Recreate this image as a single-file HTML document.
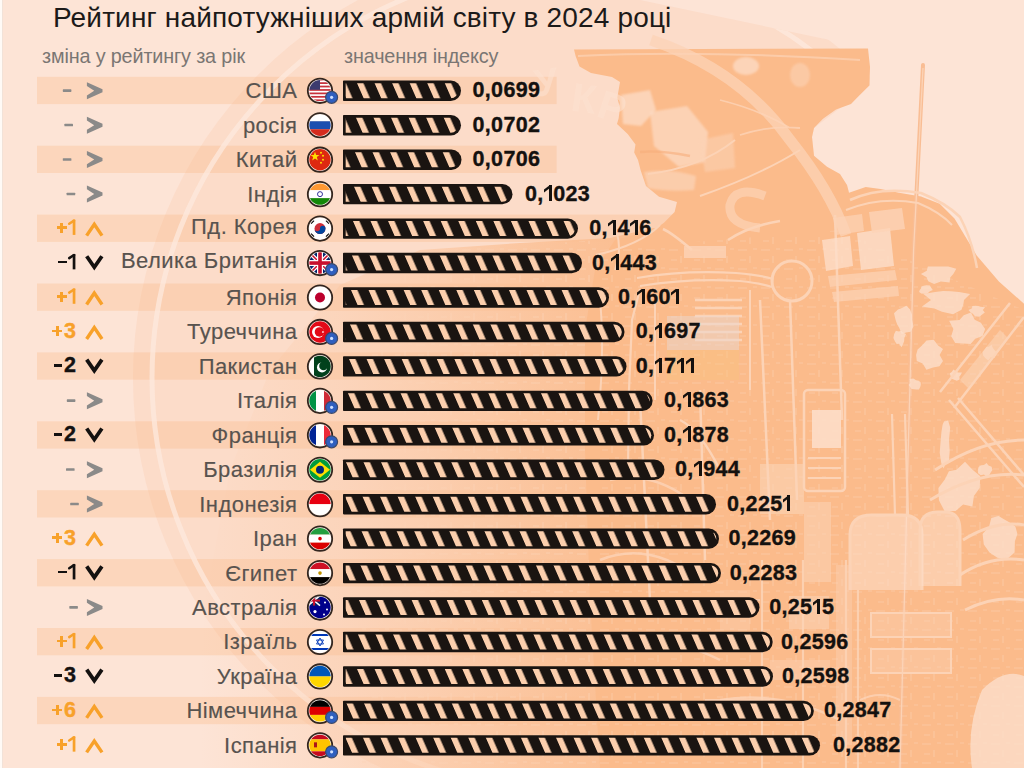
<!DOCTYPE html>
<html><head><meta charset="utf-8">
<style>
*{margin:0;padding:0;box-sizing:border-box}
html,body{width:1024px;height:768px;overflow:hidden;background:#fde4d6}
body{position:relative;font-family:"Liberation Sans",sans-serif}
.t{position:absolute;white-space:nowrap;line-height:1}
.title{left:53px;top:4px;font-size:28px;color:#1c1a19;letter-spacing:0.16px}
.sub{font-size:19.8px;color:#7a7673;letter-spacing:-0.14px}
.nm{font-size:22px;color:#58534f;text-align:right;letter-spacing:0.45px;-webkit-text-stroke:0.15px #58534f}
.val{font-size:21.5px;font-weight:bold;color:#14110f;letter-spacing:0.3px;-webkit-text-stroke:0.35px #14110f}
.one{display:inline-block;position:relative;width:9.6px;height:15.3px;vertical-align:baseline}
.one::before{content:'';position:absolute;right:1.6px;bottom:0;width:3px;height:15.4px;background:#14110f}
.one::after{content:'';position:absolute;right:4.4px;top:0.4px;width:4.6px;height:3px;background:#14110f;transform:skewY(-38deg);transform-origin:100% 0}
.chg{font-size:21.5px;font-weight:bold;-webkit-text-stroke:0.4px}
</style></head><body>

<svg width="1024" height="768" style="position:absolute;left:0;top:0">
<defs><pattern id="st" patternUnits="userSpaceOnUse" width="17.55" height="60" patternTransform="skewX(23.7)"><rect x="0" y="0" width="17.55" height="60" fill="#1a1411"/><rect x="0" y="0" width="6.4" height="60" fill="#fccfad"/></pattern></defs>
<rect x="0" y="0" width="2" height="768" fill="#fffaf6"/><rect x="2" y="0" width="1" height="768" fill="#f2e2d8"/>
<rect x="37" y="76.80" width="519.60" height="27.3" fill="#fcd6bc"/>
<rect x="37" y="145.70" width="519.60" height="27.3" fill="#fcd6bc"/>
<rect x="37" y="214.60" width="636.30" height="27.3" fill="#fcd6bc"/>
<rect x="37" y="283.50" width="665.00" height="27.3" fill="#fcd6bc"/>
<rect x="37" y="352.40" width="682.80" height="27.3" fill="#fcd6bc"/>
<rect x="37" y="421.30" width="711.10" height="27.3" fill="#fcd6bc"/>
<rect x="37" y="490.20" width="774.10" height="27.3" fill="#fcd6bc"/>
<rect x="37" y="559.10" width="776.80" height="27.3" fill="#fcd6bc"/>
<rect x="37" y="628.00" width="828.00" height="27.3" fill="#fcd6bc"/>
<rect x="37" y="696.90" width="871.00" height="27.3" fill="#fcd6bc"/>
<defs><linearGradient id="bsg" x1="200" y1="0" x2="620" y2="0" gradientUnits="userSpaceOnUse"><stop offset="0" stop-color="#fbbf93" stop-opacity="0"/><stop offset="0.33" stop-color="#fbbf93" stop-opacity="0.25"/><stop offset="0.6" stop-color="#fbbf93" stop-opacity="0.55"/><stop offset="0.86" stop-color="#fbbf93" stop-opacity="0.88"/><stop offset="1" stop-color="#fbbf93" stop-opacity="1"/></linearGradient><filter id="bl1" x="-20%" y="-20%" width="140%" height="140%"><feGaussianBlur stdDeviation="1.2"/></filter><filter id="bl3" x="-30%" y="-30%" width="160%" height="160%"><feGaussianBlur stdDeviation="4"/></filter><pattern id="tex" patternUnits="userSpaceOnUse" width="23" height="19"><path d="M2,3 h9 M14,9 v7 M4,13 h6 M17,2 h4" stroke="#fcd3b6" stroke-width="1.6"/></pattern></defs>
<clipPath id="ringclip"><path d="M0,0 H640 L868,48 L870,85 L814,128 L812,137 L814,156 L847,185 L849,193 L921,196 L976,255 L1024,303 V768 H0Z"/></clipPath>
<g clip-path="url(#ringclip)"><circle cx="563" cy="378" r="430" fill="#f8b080" fill-opacity="0.15"/>
<circle cx="563" cy="378" r="411" fill="none" stroke="#fdeade" stroke-width="5" opacity="0.75"/></g>
<path d="M653.0,228.0 L610.0,238.0 L520.0,243.0 L420.0,250.0 L340.0,285.0 L270.0,370.0 L230.0,470.0 L205.0,600.0 L195.0,768.0 L700.0,768.0 L700.0,228.0Z" fill="url(#bsg)"/>
<path d="M600,240 L420,252 L380,300 L360,400 L360,768 L600,768Z" fill="url(#tex)" opacity="0.45"/>
<path d="M574.0,49.5 L868.0,48.5 L870.0,67.0 L869.4,85.5 L858.3,96.6 L851.0,104.0 L836.0,109.5 L823.0,118.8 L814.0,128.0 L812.0,137.0 L814.0,155.7 L827.0,166.8 L840.0,174.0 L847.0,185.0 L849.0,192.7 L865.7,187.0 L880.5,189.0 L899.0,192.7 L921.0,196.4 L939.7,203.8 L954.5,218.6 L965.6,237.0 L976.7,255.6 L998.9,281.5 L1024.0,303.7 L1024.0,768.0 L600.0,768.0 L590.0,600.0 L585.0,450.0 L585.0,330.0 L595.0,270.0 L615.0,240.0 L653.8,230.0 L664.0,222.7 L674.6,212.0 L677.0,202.0 L659.0,196.7 L646.0,186.0 L640.7,170.6 L638.0,160.0 L634.2,152.4 L635.5,144.6 L627.7,134.0 L617.0,124.0 L618.6,118.5 L620.0,108.0 L617.3,97.7 L620.0,82.0 L612.0,77.0 L591.0,73.0 L579.5,66.5 L575.6,56.0Z" fill="#fbbb8b"/>
<path d="M923,65 L913.6,250 L908.7,432 L900,768" stroke="#f9bd94" stroke-width="4" fill="none" stroke-linecap="round"/>
<path d="M923,68 L913.6,250 L908.7,432 L900,768" stroke="#fcd3b6" stroke-width="1.3" fill="none"/>
<g><path d="M600,250 L840,230 L1024,310 L1024,768 L600,768Z" fill="url(#tex)" opacity="0.35"/><path d="M651,40 Q740,70 790,140 Q830,190 846,235" stroke="#fcd3b6" stroke-width="11" fill="none" opacity="0.75"/><path d="M650,112 L687,106 L708,132 L705,162 L679,167 L654,146Z" fill="#fddfcb" opacity="0.65" filter="url(#bl1)"/><path d="M621,95 L650,90 L656,110 L641,126 L623,124Z" fill="#fddfcb" opacity="0.7" filter="url(#bl1)"/><path d="M644,172 Q670,168 696,176 L694,190 Q668,192 648,188Z" fill="#fcd3b6" opacity="0.75" filter="url(#bl1)"/><path d="M700,140 L733,133 L735,168 L705,172Z" fill="#fcd3b6" opacity="0.55" filter="url(#bl1)"/><path d="M640,152 Q660,150 690,156" stroke="#f6ad7c" stroke-width="2.5" fill="none" opacity="0.6"/><path d="M648,174 Q700,168 735,140 M700,196 Q760,175 800,150" stroke="#fcd3b6" stroke-width="2" fill="none"/><ellipse cx="746" cy="66" rx="13" ry="9" fill="#fddfcb" opacity="0.7" filter="url(#bl1)"/><ellipse cx="800" cy="75" rx="10" ry="12" fill="#fcd3b6" opacity="0.6" filter="url(#bl1)"/><path d="M578,56 Q700,50 860,60" stroke="#fcd3b6" stroke-width="2" fill="none" opacity="0.7"/><path d="M720,100 Q760,110 790,128 M740,135 Q770,125 800,128" stroke="#fcd3b6" stroke-width="1.8" fill="none" opacity="0.8"/><path d="M765,196 Q735,185 730,205 Q728,225 760,228" stroke="#fcd3b6" stroke-width="9" fill="none" opacity="0.7"/><path d="M663,229 Q672,233 692,250" stroke="#fcd3b6" stroke-width="2.5" fill="none"/><rect x="684" y="246" width="42" height="12" fill="#fcd3b6" opacity="0.8"/><path d="M728,240 Q749,226 780,221" stroke="#fcd3b6" stroke-width="2.5" fill="none"/><path d="M637,278 Q684,270 736,273 Q760,275 773,279 M640,286 Q690,278 740,281 Q760,283 772,287" stroke="#fcd3b6" stroke-width="2.2" fill="none"/><path d="M640,289 L632,320 L629,390 L628,470" stroke="#fcd3b6" stroke-width="2.2" fill="none"/><path d="M596,255 Q640,245 660,225" stroke="#fcd3b6" stroke-width="2" fill="none"/><path d="M610,220 Q625,240 615,270 M600,300 Q605,350 598,420" stroke="#fcd3b6" stroke-width="2" fill="none"/><path d="M695,300 H742" stroke="#fcd3b6" stroke-width="2.3"/><path d="M695,308 H742" stroke="#fcd3b6" stroke-width="2.3"/><path d="M695,316 H742" stroke="#fcd3b6" stroke-width="2.3"/><path d="M695,324 H742" stroke="#fcd3b6" stroke-width="2.3"/><path d="M695,332 H742" stroke="#fcd3b6" stroke-width="2.3"/><path d="M695,340 H742" stroke="#fcd3b6" stroke-width="2.3"/><rect x="667" y="316" width="72" height="34" fill="#ead8d0" opacity="0.5"/><rect x="667" y="350" width="72" height="30" fill="#f9c27d" opacity="0.4"/><path d="M750,290 V390 M655,300 V400" stroke="#fcd3b6" stroke-width="2" fill="none"/><circle cx="792" cy="281" r="20" stroke="#fcd3b6" stroke-width="3" fill="none"/><path d="M790,300 L797,500 M760,300 L770,520 M835,215 L842,420 M700,390 L705,560 M640,400 L650,600 M680,420 Q700,430 720,470" stroke="#fcd3b6" stroke-width="2.5" fill="none"/><path d="M850,200 Q880,186 921,193 Q946,203 960,217 Q972,240 977,268" stroke="#fcd3b6" stroke-width="2.5" fill="none"/><path d="M846,210 Q880,196 918,203 Q940,212 952,225" stroke="#fcd3b6" stroke-width="2" fill="none"/><path d="M857,233 L890,228 L894,266 L861,270Z" fill="#fddfcb" opacity="0.8"/><path d="M822,240 L850,236 L853,266 L826,271Z" fill="#fddfcb" opacity="0.75"/><path d="M869,212 L902,208 L905,229 L872,233Z" fill="#fcd3b6" opacity="0.8"/><path d="M833,218 L862,214 L864,231 L836,235Z" fill="#fcd3b6" opacity="0.7"/><path d="M828,276 L895,270 L897,280 L830,287Z M832,292 L898,286 L899,296 L834,302Z" fill="#fcd3b6" opacity="0.7"/><path d="M953.3,274.0 L950.2,277.5 L949.6,282.6 L940.9,281.4 L934.1,284.0 L928.2,281.3 L926.6,277.2 L920.9,274.0 L926.8,270.8 L927.8,266.4 L935.2,266.6 L940.9,266.5 L948.2,266.5 L956.3,268.8Z" fill="#fddfcb" opacity="0.8"/><path d="M964.0,300.0 L963.4,304.2 L961.5,309.8 L953.1,314.3 L942.0,311.8 L934.3,308.5 L922.0,306.4 L931.0,300.0 L923.4,293.9 L935.1,292.0 L943.2,291.0 L950.8,291.2 L959.0,291.9 L970.1,294.0Z" fill="#fddfcb" opacity="0.8"/><path d="M912.2,320.0 L913.5,326.3 L910.8,331.8 L906.1,332.6 L901.7,334.0 L899.3,328.1 L897.2,324.5 L895.6,320.0 L894.0,313.3 L898.0,309.6 L902.0,307.9 L906.4,305.7 L910.1,309.4 L912.0,314.7Z" fill="#fddfcb" opacity="0.8"/><path d="M985.1,329.0 L982.6,336.1 L975.2,338.8 L970.6,344.0 L963.5,343.6 L955.2,343.0 L951.2,336.2 L953.4,329.0 L949.1,320.8 L959.5,320.0 L963.7,315.3 L971.0,312.5 L974.7,319.8 L980.9,322.7Z" fill="#fddfcb" opacity="0.8"/><path d="M939.6,355.0 L943.0,360.9 L939.5,366.2 L933.1,367.6 L926.4,369.7 L922.7,363.6 L916.8,361.0 L916.1,355.0 L917.6,349.4 L922.0,345.6 L926.5,340.5 L933.7,339.8 L938.1,345.5 L943.0,349.1Z" fill="#fddfcb" opacity="0.8"/><path d="M982.8,310.0 L984.8,312.6 L982.2,314.6 L979.2,316.8 L975.0,316.3 L972.8,313.7 L970.5,312.2 L968.5,310.0 L972.0,308.3 L972.3,305.9 L975.6,305.7 L978.3,305.9 L980.6,306.8 L985.1,307.3Z" fill="#fddfcb" opacity="0.8"/><path d="M904.3,338.0 L904.2,340.9 L903.2,343.7 L901.5,347.2 L899.1,343.7 L896.7,343.9 L895.0,341.5 L893.4,338.0 L894.2,334.0 L895.9,330.7 L898.9,331.4 L901.1,330.8 L903.1,332.4 L906.0,333.9Z" fill="#fddfcb" opacity="0.8"/><path d="M932.8,290.0 L929.5,291.6 L928.1,293.0 L926.2,293.8 L923.8,293.8 L921.2,293.6 L919.1,292.1 L919.7,290.0 L921.0,288.6 L921.3,286.5 L923.7,285.8 L926.4,285.3 L929.9,285.4 L931.2,287.8Z" fill="#fddfcb" opacity="0.8"/><path d="M996.3,352.0 L996.0,355.2 L994.3,358.0 L991.0,357.0 L988.3,360.4 L985.5,358.3 L983.2,355.7 L982.7,352.0 L984.8,349.2 L986.4,346.9 L988.9,346.8 L991.5,344.7 L992.9,347.9 L994.2,349.7Z" fill="#fddfcb" opacity="0.8"/><path d="M920.8,385.0 L920.1,387.2 L918.9,389.4 L916.1,389.5 L913.9,389.3 L911.5,388.9 L910.2,387.1 L908.6,385.0 L910.4,383.1 L909.7,379.1 L913.3,378.6 L916.2,380.2 L918.7,380.8 L920.7,382.5Z" fill="#fddfcb" opacity="0.8"/><path d="M960.7,375.0 L959.4,376.6 L959.6,379.4 L956.8,380.8 L953.6,379.4 L951.2,378.6 L950.8,376.5 L950.2,375.0 L949.9,373.2 L951.7,371.9 L953.4,369.6 L956.1,371.4 L957.8,372.4 L962.0,372.5Z" fill="#fddfcb" opacity="0.8"/><path d="M979.7,488.0 L973.9,496.0 L972.4,506.6 L963.1,504.4 L955.6,511.0 L944.6,511.2 L938.9,500.2 L938.4,488.0 L945.0,479.3 L948.9,471.2 L956.5,469.7 L965.0,461.8 L972.3,469.5 L980.3,476.3Z" fill="#fddfcb" opacity="0.8"/><path d="M1017.4,534.0 L1014.9,541.3 L1014.6,552.6 L1006.9,559.2 L997.4,557.7 L989.5,552.6 L983.8,544.4 L982.6,534.0 L989.1,526.6 L991.3,518.1 L998.5,516.0 L1004.8,519.7 L1009.7,522.6 L1015.4,526.4Z" fill="#fddfcb" opacity="0.8"/><path d="M949.0,440.0 L949.7,451.2 L948.7,463.0 L946.0,462.0 L943.7,468.4 L941.3,463.3 L939.7,452.8 L940.7,440.0 L941.5,431.5 L942.6,424.7 L944.1,421.3 L945.9,421.2 L948.1,420.5 L950.2,427.6Z" fill="#fddfcb" opacity="0.8"/><path d="M992.4,470.0 L990.5,472.7 L989.2,475.3 L986.6,477.1 L984.0,474.6 L980.8,475.3 L978.1,473.3 L977.8,470.0 L978.6,466.9 L981.2,465.2 L983.9,465.1 L986.6,462.9 L988.5,465.6 L991.6,466.8Z" fill="#fddfcb" opacity="0.8"/><path d="M940,392 L1010,303 M954,408 L1024,317 M949,400 L1024,487 M958,398 L1024,475" stroke="#fcd3b6" stroke-width="2.5" fill="none"/><path d="M960,380 L1000,330 L1008,338 L968,388Z" fill="#fcd3b6" opacity="0.6"/><rect x="804" y="390" width="41" height="101" rx="4" stroke="#fcd3b6" stroke-width="2.5" fill="none"/><rect x="812" y="410" width="29" height="38" fill="#fddfcb" opacity="0.85"/><path d="M808,458 H841 M808,468 H841 M808,478 H841" stroke="#fcd3b6" stroke-width="1.8"/><rect x="760" y="464" width="44" height="50" fill="#fcd3b6" opacity="0.6"/><rect x="804" y="502" width="27" height="80" fill="#fcd3b6" opacity="0.55"/><path d="M892,414 L895,515 M905,414 L908,515" stroke="#fcd3b6" stroke-width="2.2"/><path d="M850,590 V535 Q850,515 872,515 H902 Q922,515 922,535 V590" stroke="#fcd3b6" stroke-width="3" fill="#fddfcb" fill-opacity="0.55"/><path d="M920,586 V530 Q920,512 938,512 H945 Q960,512 960,530 V586" stroke="#fcd3b6" stroke-width="3" fill="#fddfcb" fill-opacity="0.5"/><rect x="871" y="613" width="80" height="24" stroke="#fcd3b6" stroke-width="2" fill="#fcd3b6" fill-opacity="0.35"/><rect x="871" y="649" width="80" height="24" stroke="#fcd3b6" stroke-width="2" fill="#fcd3b6" fill-opacity="0.35"/><path d="M762,560 V768 M803,560 V768 M846,560 V768 M858,590 V768" stroke="#fcd3b6" stroke-width="2.2" fill="none" opacity="0.85"/><rect x="789" y="596" width="40" height="33" fill="#fcd3b6" opacity="0.55"/><rect x="836" y="565" width="16" height="180" fill="#fcd3b6" opacity="0.4"/><rect x="770" y="660" width="60" height="20" fill="#fcd3b6" opacity="0.45"/><rect x="720" y="590" width="30" height="40" fill="#fcd3b6" opacity="0.35"/><path d="M700,600 H760 M705,700 H770 M860,700 Q880,690 900,700" stroke="#fcd3b6" stroke-width="2" fill="none" opacity="0.8"/><path d="M982,690 Q1004,668 1024,676 L1024,768 L972,768 Q966,728 982,690Z" fill="#fddfcb" opacity="0.8"/><path d="M935,470 Q980,440 1024,440 M930,500 Q980,470 1024,475 M963,540 Q995,520 1024,525 M960,575 Q990,555 1024,560 M965,610 Q995,595 1024,600" stroke="#fcd3b6" stroke-width="3" fill="none"/><path d="M610,480 Q650,470 690,500 M600,560 Q650,540 700,580 M620,650 Q660,630 720,660 M720,700 Q780,690 840,720" stroke="#fcd3b6" stroke-width="2.5" fill="none" opacity="0.8"/><text x="548" y="95" transform="rotate(-8 548 95)" font-family="Liberation Sans" font-weight="bold" font-size="38" fill="#fde3d2" opacity="0.55" text-anchor="middle">У</text><text x="582" y="112" transform="rotate(8 582 112)" font-family="Liberation Sans" font-weight="bold" font-size="40" fill="#fde3d2" opacity="0.55" text-anchor="middle">К</text><text x="608" y="120" transform="rotate(18 608 120)" font-family="Liberation Sans" font-weight="bold" font-size="40" fill="#fde3d2" opacity="0.55" text-anchor="middle">Р</text></g>
<g transform="translate(343,80.60)">
<path d="M0.8,0 H107.80 A10.20,10.20 0 0 1 107.80,20.40 H0.8 Q0,20.40 0,19.60 V0.8 Q0,0 0.8,0Z" fill="#1a1411"/>
<g transform="translate(12.90,0)"><path d="M-10.20,2.7 H94.90 A7.50,7.50 0 0 1 94.90,17.70 H-10.20 Z" fill="url(#st)"/></g>
</g>
<g transform="translate(320,90.80)"><clipPath id="c0"><circle r="11.6"/></clipPath><g clip-path="url(#c0)"><rect x="-12" y="-12" width="24" height="24" fill="#fff"/><rect x="-12" y="-12.00" width="24" height="1.75" fill="#c8323c"/><rect x="-12" y="-8.57" width="24" height="1.75" fill="#c8323c"/><rect x="-12" y="-5.14" width="24" height="1.75" fill="#c8323c"/><rect x="-12" y="-1.71" width="24" height="1.75" fill="#c8323c"/><rect x="-12" y="1.72" width="24" height="1.75" fill="#c8323c"/><rect x="-12" y="5.15" width="24" height="1.75" fill="#c8323c"/><rect x="-12" y="8.58" width="24" height="1.75" fill="#c8323c"/><rect x="-12" y="-12" width="12" height="11" fill="#3c3b6e"/></g><circle r="11.3" fill="none" stroke="#fff6f0" stroke-width="1.2"/><circle r="12.2" fill="none" stroke="#33261f" stroke-width="1.8"/></g>
<g transform="translate(331.6,97.30)"><circle r="6" fill="#2f5fbf" stroke="#3d4a6a" stroke-width="1.2"/><circle r="1.6" fill="#cfe0ff"/></g>
<g transform="translate(343,115.05)">
<path d="M0.8,0 H107.80 A10.20,10.20 0 0 1 107.80,20.40 H0.8 Q0,20.40 0,19.60 V0.8 Q0,0 0.8,0Z" fill="#1a1411"/>
<g transform="translate(11.80,0)"><path d="M-9.10,2.7 H96.00 A7.50,7.50 0 0 1 96.00,17.70 H-9.10 Z" fill="url(#st)"/></g>
</g>
<g transform="translate(320,125.25)"><clipPath id="c1"><circle r="11.6"/></clipPath><g clip-path="url(#c1)"><rect x="-12" y="-12" width="24" height="8" fill="#fff"/><rect x="-12" y="-4" width="24" height="8" fill="#1c4fb0"/><rect x="-12" y="4" width="24" height="8" fill="#d52b1e"/></g><circle r="11.3" fill="none" stroke="#fff6f0" stroke-width="1.2"/><circle r="12.2" fill="none" stroke="#33261f" stroke-width="1.8"/></g>
<g transform="translate(343,149.50)">
<path d="M0.8,0 H108.30 A10.20,10.20 0 0 1 108.30,20.40 H0.8 Q0,20.40 0,19.60 V0.8 Q0,0 0.8,0Z" fill="#1a1411"/>
<g transform="translate(10.80,0)"><path d="M-8.10,2.7 H97.50 A7.50,7.50 0 0 1 97.50,17.70 H-8.10 Z" fill="url(#st)"/></g>
</g>
<g transform="translate(320,159.70)"><clipPath id="c2"><circle r="11.6"/></clipPath><g clip-path="url(#c2)"><rect x="-12" y="-12" width="24" height="24" fill="#de2910"/><polygon points="-5,-8 -3.8,-4.6 -0.5,-4.6 -3.2,-2.6 -2.2,0.8 -5,-1.3 -7.8,0.8 -6.8,-2.6 -9.5,-4.6 -6.2,-4.6" fill="#ffde00"/><circle cx="1" cy="-7" r="1" fill="#ffde00"/><circle cx="3" cy="-4" r="1" fill="#ffde00"/><circle cx="3" cy="0" r="1" fill="#ffde00"/><circle cx="1" cy="3" r="1" fill="#ffde00"/></g><circle r="11.3" fill="none" stroke="#fff6f0" stroke-width="1.2"/><circle r="12.2" fill="none" stroke="#33261f" stroke-width="1.8"/></g>
<g transform="translate(343,183.95)">
<path d="M0.8,0 H159.30 A10.20,10.20 0 0 1 159.30,20.40 H0.8 Q0,20.40 0,19.60 V0.8 Q0,0 0.8,0Z" fill="#1a1411"/>
<g transform="translate(9.80,0)"><path d="M-7.10,2.7 H149.50 A7.50,7.50 0 0 1 149.50,17.70 H-7.10 Z" fill="url(#st)"/></g>
</g>
<g transform="translate(320,194.15)"><clipPath id="c3"><circle r="11.6"/></clipPath><g clip-path="url(#c3)"><rect x="-12" y="-12" width="24" height="8" fill="#ff9933"/><rect x="-12" y="-4" width="24" height="8" fill="#fff"/><rect x="-12" y="4" width="24" height="8" fill="#138808"/><circle r="2.5" fill="none" stroke="#000080" stroke-width="0.8"/></g><circle r="11.3" fill="none" stroke="#fff6f0" stroke-width="1.2"/><circle r="12.2" fill="none" stroke="#33261f" stroke-width="1.8"/></g>
<g transform="translate(343,218.40)">
<path d="M0.8,0 H224.80 A10.20,10.20 0 0 1 224.80,20.40 H0.8 Q0,20.40 0,19.60 V0.8 Q0,0 0.8,0Z" fill="#1a1411"/>
<g transform="translate(8.80,0)"><path d="M-6.10,2.7 H216.00 A7.50,7.50 0 0 1 216.00,17.70 H-6.10 Z" fill="url(#st)"/></g>
</g>
<g transform="translate(320,228.60)"><clipPath id="c4"><circle r="11.6"/></clipPath><g clip-path="url(#c4)"><rect x="-12" y="-12" width="24" height="24" fill="#fff"/><circle r="5.5" fill="#cd2e3a"/><path d="M-5.5,0 A5.5,5.5 0 0 0 5.5,0 A2.75,2.75 0 0 0 0,0 A2.75,2.75 0 0 1 -5.5,0Z" fill="#0047a0"/><g stroke="#000" stroke-width="1.2"><line x1="-9" y1="-5" x2="-6" y2="-8"/><line x1="9" y1="5" x2="6" y2="8"/><line x1="6" y1="-8" x2="9" y2="-5"/><line x1="-6" y1="8" x2="-9" y2="5"/></g></g><circle r="11.3" fill="none" stroke="#fff6f0" stroke-width="1.2"/><circle r="12.2" fill="none" stroke="#33261f" stroke-width="1.8"/></g>
<g transform="translate(343,252.85)">
<path d="M0.8,0 H228.80 A10.20,10.20 0 0 1 228.80,20.40 H0.8 Q0,20.40 0,19.60 V0.8 Q0,0 0.8,0Z" fill="#1a1411"/>
<g transform="translate(7.80,0)"><path d="M-5.10,2.7 H221.00 A7.50,7.50 0 0 1 221.00,17.70 H-5.10 Z" fill="url(#st)"/></g>
</g>
<g transform="translate(320,263.05)"><clipPath id="c5"><circle r="11.6"/></clipPath><g clip-path="url(#c5)"><rect x="-12" y="-12" width="24" height="24" fill="#012169"/><g stroke="#fff" stroke-width="4"><line x1="-12" y1="-12" x2="12" y2="12"/><line x1="12" y1="-12" x2="-12" y2="12"/></g><g stroke="#c8102e" stroke-width="1.5"><line x1="-12" y1="-12" x2="12" y2="12"/><line x1="12" y1="-12" x2="-12" y2="12"/></g><rect x="-12" y="-3" width="24" height="6" fill="#fff"/><rect x="-3" y="-12" width="6" height="24" fill="#fff"/><rect x="-12" y="-1.8" width="24" height="3.6" fill="#c8102e"/><rect x="-1.8" y="-12" width="3.6" height="24" fill="#c8102e"/></g><circle r="11.3" fill="none" stroke="#fff6f0" stroke-width="1.2"/><circle r="12.2" fill="none" stroke="#33261f" stroke-width="1.8"/></g>
<g transform="translate(331.6,269.55)"><circle r="6" fill="#2f5fbf" stroke="#3d4a6a" stroke-width="1.2"/><circle r="1.6" fill="#cfe0ff"/></g>
<g transform="translate(343,287.30)">
<path d="M0.8,0 H255.80 A10.20,10.20 0 0 1 255.80,20.40 H0.8 Q0,20.40 0,19.60 V0.8 Q0,0 0.8,0Z" fill="#1a1411"/>
<g transform="translate(6.80,0)"><path d="M-4.10,2.7 H249.00 A7.50,7.50 0 0 1 249.00,17.70 H-4.10 Z" fill="url(#st)"/></g>
</g>
<g transform="translate(320,297.50)"><clipPath id="c6"><circle r="11.6"/></clipPath><g clip-path="url(#c6)"><rect x="-12" y="-12" width="24" height="24" fill="#fff"/><circle r="5" fill="#bc002d"/></g><circle r="11.3" fill="none" stroke="#fff6f0" stroke-width="1.2"/><circle r="12.2" fill="none" stroke="#33261f" stroke-width="1.8"/></g>
<g transform="translate(343,321.75)">
<path d="M0.8,0 H271.30 A10.20,10.20 0 0 1 271.30,20.40 H0.8 Q0,20.40 0,19.60 V0.8 Q0,0 0.8,0Z" fill="#1a1411"/>
<g transform="translate(5.80,0)"><path d="M-3.10,2.7 H265.50 A7.50,7.50 0 0 1 265.50,17.70 H-3.10 Z" fill="url(#st)"/></g>
</g>
<g transform="translate(320,331.95)"><clipPath id="c7"><circle r="11.6"/></clipPath><g clip-path="url(#c7)"><rect x="-12" y="-12" width="24" height="24" fill="#e30a17"/><circle cx="-2" r="6" fill="#fff"/><circle cx="-0.5" r="4.8" fill="#e30a17"/><polygon points="4.5,0 1.8,1 3.4,-1.4 3.4,1.4 1.8,-1" fill="#fff"/></g><circle r="11.3" fill="none" stroke="#fff6f0" stroke-width="1.2"/><circle r="12.2" fill="none" stroke="#33261f" stroke-width="1.8"/></g>
<g transform="translate(331.6,338.45)"><circle r="6" fill="#2f5fbf" stroke="#3d4a6a" stroke-width="1.2"/><circle r="1.6" fill="#cfe0ff"/></g>
<g transform="translate(343,356.20)">
<path d="M0.8,0 H273.30 A10.20,10.20 0 0 1 273.30,20.40 H0.8 Q0,20.40 0,19.60 V0.8 Q0,0 0.8,0Z" fill="#1a1411"/>
<g transform="translate(4.80,0)"><path d="M-2.10,2.7 H268.50 A7.50,7.50 0 0 1 268.50,17.70 H-2.10 Z" fill="url(#st)"/></g>
</g>
<g transform="translate(320,366.40)"><clipPath id="c8"><circle r="11.6"/></clipPath><g clip-path="url(#c8)"><rect x="-12" y="-12" width="24" height="24" fill="#01411c"/><rect x="-12" y="-12" width="6" height="24" fill="#fff"/><circle cx="2" cy="1" r="5" fill="#fff"/><circle cx="3.5" cy="-0.5" r="4.3" fill="#01411c"/></g><circle r="11.3" fill="none" stroke="#fff6f0" stroke-width="1.2"/><circle r="12.2" fill="none" stroke="#33261f" stroke-width="1.8"/></g>
<g transform="translate(343,390.65)">
<path d="M0.8,0 H299.40 A10.20,10.20 0 0 1 299.40,20.40 H0.8 Q0,20.40 0,19.60 V0.8 Q0,0 0.8,0Z" fill="#1a1411"/>
<g transform="translate(3.80,0)"><path d="M-1.10,2.7 H295.60 A7.50,7.50 0 0 1 295.60,17.70 H-1.10 Z" fill="url(#st)"/></g>
</g>
<g transform="translate(320,400.85)"><clipPath id="c9"><circle r="11.6"/></clipPath><g clip-path="url(#c9)"><rect x="-12" y="-12" width="8" height="24" fill="#009246"/><rect x="-4" y="-12" width="8" height="24" fill="#fff"/><rect x="4" y="-12" width="8" height="24" fill="#ce2b37"/></g><circle r="11.3" fill="none" stroke="#fff6f0" stroke-width="1.2"/><circle r="12.2" fill="none" stroke="#33261f" stroke-width="1.8"/></g>
<g transform="translate(331.6,407.35)"><circle r="6" fill="#2f5fbf" stroke="#3d4a6a" stroke-width="1.2"/><circle r="1.6" fill="#cfe0ff"/></g>
<g transform="translate(343,425.10)">
<path d="M0.8,0 H300.80 A10.20,10.20 0 0 1 300.80,20.40 H0.8 Q0,20.40 0,19.60 V0.8 Q0,0 0.8,0Z" fill="#1a1411"/>
<g transform="translate(2.80,0)"><path d="M-0.10,2.7 H298.00 A7.50,7.50 0 0 1 298.00,17.70 H-0.10 Z" fill="url(#st)"/></g>
</g>
<g transform="translate(320,435.30)"><clipPath id="c10"><circle r="11.6"/></clipPath><g clip-path="url(#c10)"><rect x="-12" y="-12" width="8" height="24" fill="#002395"/><rect x="-4" y="-12" width="8" height="24" fill="#fff"/><rect x="4" y="-12" width="8" height="24" fill="#ed2939"/></g><circle r="11.3" fill="none" stroke="#fff6f0" stroke-width="1.2"/><circle r="12.2" fill="none" stroke="#33261f" stroke-width="1.8"/></g>
<g transform="translate(331.6,441.80)"><circle r="6" fill="#2f5fbf" stroke="#3d4a6a" stroke-width="1.2"/><circle r="1.6" fill="#cfe0ff"/></g>
<g transform="translate(343,459.55)">
<path d="M0.8,0 H311.30 A10.20,10.20 0 0 1 311.30,20.40 H0.8 Q0,20.40 0,19.60 V0.8 Q0,0 0.8,0Z" fill="#1a1411"/>
<g transform="translate(1.80,0)"><path d="M0.90,2.7 H309.50 A7.50,7.50 0 0 1 309.50,17.70 H0.90 Z" fill="url(#st)"/></g>
</g>
<g transform="translate(320,469.75)"><clipPath id="c11"><circle r="11.6"/></clipPath><g clip-path="url(#c11)"><rect x="-12" y="-12" width="24" height="24" fill="#009c3b"/><polygon points="0,-8 10,0 0,8 -10,0" fill="#ffdf00"/><circle r="4" fill="#002776"/></g><circle r="11.3" fill="none" stroke="#fff6f0" stroke-width="1.2"/><circle r="12.2" fill="none" stroke="#33261f" stroke-width="1.8"/></g>
<g transform="translate(343,494.00)">
<path d="M0.8,0 H362.80 A10.20,10.20 0 0 1 362.80,20.40 H0.8 Q0,20.40 0,19.60 V0.8 Q0,0 0.8,0Z" fill="#1a1411"/>
<g transform="translate(0.80,0)"><path d="M1.90,2.7 H362.00 A7.50,7.50 0 0 1 362.00,17.70 H1.90 Z" fill="url(#st)"/></g>
</g>
<g transform="translate(320,504.20)"><clipPath id="c12"><circle r="11.6"/></clipPath><g clip-path="url(#c12)"><rect x="-12" y="-12" width="24" height="12" fill="#e70011"/><rect x="-12" y="0" width="24" height="12" fill="#fff"/></g><circle r="11.3" fill="none" stroke="#fff6f0" stroke-width="1.2"/><circle r="12.2" fill="none" stroke="#33261f" stroke-width="1.8"/></g>
<g transform="translate(343,528.45)">
<path d="M0.8,0 H365.80 A10.20,10.20 0 0 1 365.80,20.40 H0.8 Q0,20.40 0,19.60 V0.8 Q0,0 0.8,0Z" fill="#1a1411"/>
<g transform="translate(-0.20,0)"><path d="M2.90,2.7 H366.00 A7.50,7.50 0 0 1 366.00,17.70 H2.90 Z" fill="url(#st)"/></g>
</g>
<g transform="translate(320,538.65)"><clipPath id="c13"><circle r="11.6"/></clipPath><g clip-path="url(#c13)"><rect x="-12" y="-12" width="24" height="8" fill="#239f40"/><rect x="-12" y="-4" width="24" height="8" fill="#fff"/><rect x="-12" y="4" width="24" height="8" fill="#da0000"/><circle r="1.8" fill="#da0000"/></g><circle r="11.3" fill="none" stroke="#fff6f0" stroke-width="1.2"/><circle r="12.2" fill="none" stroke="#33261f" stroke-width="1.8"/></g>
<g transform="translate(343,562.90)">
<path d="M0.8,0 H367.80 A10.20,10.20 0 0 1 367.80,20.40 H0.8 Q0,20.40 0,19.60 V0.8 Q0,0 0.8,0Z" fill="#1a1411"/>
<g transform="translate(-1.20,0)"><path d="M3.90,2.7 H369.00 A7.50,7.50 0 0 1 369.00,17.70 H3.90 Z" fill="url(#st)"/></g>
</g>
<g transform="translate(320,573.10)"><clipPath id="c14"><circle r="11.6"/></clipPath><g clip-path="url(#c14)"><rect x="-12" y="-12" width="24" height="8" fill="#ce1126"/><rect x="-12" y="-4" width="24" height="8" fill="#fff"/><rect x="-12" y="4" width="24" height="8" fill="#000"/><circle r="1.8" fill="#c09300"/></g><circle r="11.3" fill="none" stroke="#fff6f0" stroke-width="1.2"/><circle r="12.2" fill="none" stroke="#33261f" stroke-width="1.8"/></g>
<g transform="translate(343,597.35)">
<path d="M0.8,0 H406.30 A10.20,10.20 0 0 1 406.30,20.40 H0.8 Q0,20.40 0,19.60 V0.8 Q0,0 0.8,0Z" fill="#1a1411"/>
<g transform="translate(14.80,0)"><path d="M-12.10,2.7 H391.50 A7.50,7.50 0 0 1 391.50,17.70 H-12.10 Z" fill="url(#st)"/></g>
</g>
<g transform="translate(320,607.55)"><clipPath id="c15"><circle r="11.6"/></clipPath><g clip-path="url(#c15)"><rect x="-12" y="-12" width="24" height="24" fill="#00008b"/><rect x="-12" y="-12" width="12" height="10" fill="#012169"/><g stroke="#fff" stroke-width="1.5"><line x1="-12" y1="-12" x2="0" y2="-2"/><line x1="0" y1="-12" x2="-12" y2="-2"/></g><rect x="-7" y="-12" width="2" height="10" fill="#c8102e"/><rect x="-12" y="-8" width="12" height="2" fill="#c8102e"/><circle cx="-5" cy="4" r="1.6" fill="#fff"/><circle cx="5" cy="-5" r="1" fill="#fff"/><circle cx="7" cy="2" r="1" fill="#fff"/><circle cx="4" cy="7" r="1" fill="#fff"/></g><circle r="11.3" fill="none" stroke="#fff6f0" stroke-width="1.2"/><circle r="12.2" fill="none" stroke="#33261f" stroke-width="1.8"/></g>
<g transform="translate(343,631.80)">
<path d="M0.8,0 H419.50 A10.20,10.20 0 0 1 419.50,20.40 H0.8 Q0,20.40 0,19.60 V0.8 Q0,0 0.8,0Z" fill="#1a1411"/>
<g transform="translate(13.80,0)"><path d="M-11.10,2.7 H405.70 A7.50,7.50 0 0 1 405.70,17.70 H-11.10 Z" fill="url(#st)"/></g>
</g>
<g transform="translate(320,642.00)"><clipPath id="c16"><circle r="11.6"/></clipPath><g clip-path="url(#c16)"><rect x="-12" y="-12" width="24" height="24" fill="#fff"/><rect x="-12" y="-8" width="24" height="2" fill="#0038b8"/><rect x="-12" y="6" width="24" height="2" fill="#0038b8"/><polygon points="0,-4 3.5,2 -3.5,2" fill="none" stroke="#0038b8" stroke-width="0.9"/><polygon points="0,4 3.5,-2 -3.5,-2" fill="none" stroke="#0038b8" stroke-width="0.9"/></g><circle r="11.3" fill="none" stroke="#fff6f0" stroke-width="1.2"/><circle r="12.2" fill="none" stroke="#33261f" stroke-width="1.8"/></g>
<g transform="translate(343,666.25)">
<path d="M0.8,0 H419.80 A10.20,10.20 0 0 1 419.80,20.40 H0.8 Q0,20.40 0,19.60 V0.8 Q0,0 0.8,0Z" fill="#1a1411"/>
<g transform="translate(12.80,0)"><path d="M-10.10,2.7 H407.00 A7.50,7.50 0 0 1 407.00,17.70 H-10.10 Z" fill="url(#st)"/></g>
</g>
<g transform="translate(320,676.45)"><clipPath id="c17"><circle r="11.6"/></clipPath><g clip-path="url(#c17)"><rect x="-12" y="-12" width="24" height="12" fill="#0057b7"/><rect x="-12" y="0" width="24" height="12" fill="#ffd700"/></g><circle r="11.3" fill="none" stroke="#fff6f0" stroke-width="1.2"/><circle r="12.2" fill="none" stroke="#33261f" stroke-width="1.8"/></g>
<g transform="translate(343,700.70)">
<path d="M0.8,0 H460.60 A10.20,10.20 0 0 1 460.60,20.40 H0.8 Q0,20.40 0,19.60 V0.8 Q0,0 0.8,0Z" fill="#1a1411"/>
<g transform="translate(2.30,0)"><path d="M0.40,2.7 H458.30 A7.50,7.50 0 0 1 458.30,17.70 H0.40 Z" fill="url(#st)"/></g>
</g>
<g transform="translate(320,710.90)"><clipPath id="c18"><circle r="11.6"/></clipPath><g clip-path="url(#c18)"><rect x="-12" y="-12" width="24" height="8" fill="#000"/><rect x="-12" y="-4" width="24" height="8" fill="#dd0000"/><rect x="-12" y="4" width="24" height="8" fill="#ffce00"/></g><circle r="11.3" fill="none" stroke="#fff6f0" stroke-width="1.2"/><circle r="12.2" fill="none" stroke="#33261f" stroke-width="1.8"/></g>
<g transform="translate(331.6,717.40)"><circle r="6" fill="#2f5fbf" stroke="#3d4a6a" stroke-width="1.2"/><circle r="1.6" fill="#cfe0ff"/></g>
<g transform="translate(343,735.15)">
<path d="M0.8,0 H466.80 A10.20,10.20 0 0 1 466.80,20.40 H0.8 Q0,20.40 0,19.60 V0.8 Q0,0 0.8,0Z" fill="#1a1411"/>
<g transform="translate(1.30,0)"><path d="M1.40,2.7 H465.50 A7.50,7.50 0 0 1 465.50,17.70 H1.40 Z" fill="url(#st)"/></g>
</g>
<g transform="translate(320,745.35)"><clipPath id="c19"><circle r="11.6"/></clipPath><g clip-path="url(#c19)"><rect x="-12" y="-12" width="24" height="6" fill="#c60b1e"/><rect x="-12" y="-6" width="24" height="12" fill="#ffc400"/><rect x="-12" y="6" width="24" height="6" fill="#c60b1e"/><rect x="-6" y="-3" width="3" height="5" fill="#ad1519"/></g><circle r="11.3" fill="none" stroke="#fff6f0" stroke-width="1.2"/><circle r="12.2" fill="none" stroke="#33261f" stroke-width="1.8"/></g>
<g transform="translate(331.6,751.85)"><circle r="6" fill="#2f5fbf" stroke="#3d4a6a" stroke-width="1.2"/><circle r="1.6" fill="#cfe0ff"/></g>
<rect x="62.8" y="89.30" width="8.6" height="2.6" rx="0.6" fill="#8b8a89"/>
<path d="M86.9,82.20 L102.5,89.20 L102.5,92.20 L86.9,99.20 L86.9,95.40 L94.2,90.70 L86.9,86.00Z" fill="#8b8a89"/>
<rect x="64.4" y="123.75" width="8.6" height="2.6" rx="0.6" fill="#8b8a89"/>
<path d="M86.9,116.65 L102.5,123.65 L102.5,126.65 L86.9,133.65 L86.9,129.85 L94.2,125.15 L86.9,120.45Z" fill="#8b8a89"/>
<rect x="62.8" y="158.20" width="8.6" height="2.6" rx="0.6" fill="#8b8a89"/>
<path d="M86.9,151.10 L102.5,158.10 L102.5,161.10 L86.9,168.10 L86.9,164.30 L94.2,159.60 L86.9,154.90Z" fill="#8b8a89"/>
<rect x="66.6" y="192.65" width="8.6" height="2.6" rx="0.6" fill="#8b8a89"/>
<path d="M86.9,185.55 L102.5,192.55 L102.5,195.55 L86.9,202.55 L86.9,198.75 L94.2,194.05 L86.9,189.35Z" fill="#8b8a89"/>
<path d="M86.6,235.60 L94.3,224.20 L102,235.60" fill="none" stroke="#f8a12a" stroke-width="3.4" stroke-linejoin="miter" stroke-miterlimit="10"/>
<path d="M86.7,256.25 L94.3,267.25 L101.9,256.25" fill="none" stroke="#141110" stroke-width="3.8" stroke-linejoin="miter" stroke-miterlimit="10"/>
<path d="M86.6,304.50 L94.3,293.10 L102,304.50" fill="none" stroke="#f8a12a" stroke-width="3.4" stroke-linejoin="miter" stroke-miterlimit="10"/>
<path d="M86.6,338.95 L94.3,327.55 L102,338.95" fill="none" stroke="#f8a12a" stroke-width="3.4" stroke-linejoin="miter" stroke-miterlimit="10"/>
<path d="M86.7,359.60 L94.3,370.60 L101.9,359.60" fill="none" stroke="#141110" stroke-width="3.8" stroke-linejoin="miter" stroke-miterlimit="10"/>
<rect x="66.8" y="399.35" width="8.6" height="2.6" rx="0.6" fill="#8b8a89"/>
<path d="M86.9,392.25 L102.5,399.25 L102.5,402.25 L86.9,409.25 L86.9,405.45 L94.2,400.75 L86.9,396.05Z" fill="#8b8a89"/>
<path d="M86.7,428.50 L94.3,439.50 L101.9,428.50" fill="none" stroke="#141110" stroke-width="3.8" stroke-linejoin="miter" stroke-miterlimit="10"/>
<rect x="66.0" y="468.25" width="8.6" height="2.6" rx="0.6" fill="#8b8a89"/>
<path d="M86.9,461.15 L102.5,468.15 L102.5,471.15 L86.9,478.15 L86.9,474.35 L94.2,469.65 L86.9,464.95Z" fill="#8b8a89"/>
<rect x="70.2" y="502.70" width="8.6" height="2.6" rx="0.6" fill="#8b8a89"/>
<path d="M86.9,495.60 L102.5,502.60 L102.5,505.60 L86.9,512.60 L86.9,508.80 L94.2,504.10 L86.9,499.40Z" fill="#8b8a89"/>
<path d="M86.6,545.65 L94.3,534.25 L102,545.65" fill="none" stroke="#f8a12a" stroke-width="3.4" stroke-linejoin="miter" stroke-miterlimit="10"/>
<path d="M86.7,566.30 L94.3,577.30 L101.9,566.30" fill="none" stroke="#141110" stroke-width="3.8" stroke-linejoin="miter" stroke-miterlimit="10"/>
<rect x="69.3" y="606.05" width="8.6" height="2.6" rx="0.6" fill="#8b8a89"/>
<path d="M86.9,598.95 L102.5,605.95 L102.5,608.95 L86.9,615.95 L86.9,612.15 L94.2,607.45 L86.9,602.75Z" fill="#8b8a89"/>
<path d="M86.6,649.00 L94.3,637.60 L102,649.00" fill="none" stroke="#f8a12a" stroke-width="3.4" stroke-linejoin="miter" stroke-miterlimit="10"/>
<path d="M86.7,669.65 L94.3,680.65 L101.9,669.65" fill="none" stroke="#141110" stroke-width="3.8" stroke-linejoin="miter" stroke-miterlimit="10"/>
<path d="M86.6,717.90 L94.3,706.50 L102,717.90" fill="none" stroke="#f8a12a" stroke-width="3.4" stroke-linejoin="miter" stroke-miterlimit="10"/>
<path d="M86.6,752.35 L94.3,740.95 L102,752.35" fill="none" stroke="#f8a12a" stroke-width="3.4" stroke-linejoin="miter" stroke-miterlimit="10"/>
</svg>
<div class="t title">Рейтинг найпотужніших армій світу в 2024 році</div>
<div class="t sub" style="left:42px;top:47px">зміна у рейтингу за рік</div>
<div class="t sub" style="left:344px;top:47px">значення індексу</div>
<div class="t nm" style="right:726.55px;top:80.20px">США</div>
<div class="t val" style="left:472.60px;top:80.30px">0,0699</div>
<div class="t nm" style="right:726.55px;top:114.65px">росія</div>
<div class="t val" style="left:472.60px;top:114.75px">0,0702</div>
<div class="t nm" style="right:726.55px;top:149.10px">Китай</div>
<div class="t val" style="left:472.60px;top:149.20px">0,0706</div>
<div class="t nm" style="right:726.55px;top:183.55px">Індія</div>
<div class="t val" style="left:525.00px;top:183.65px">0,<span class=one></span>023</div>
<div class="t nm" style="right:726.55px;top:215.80px">Пд. Корея</div>
<div class="t val" style="left:589.30px;top:218.10px">0,<span class=one></span>4<span class=one></span>6</div>
<div class="t nm" style="right:726.55px;top:250.25px">Велика Британія</div>
<div class="t val" style="left:592.00px;top:252.55px">0,<span class=one></span>443</div>
<div class="t nm" style="right:726.55px;top:286.90px">Японія</div>
<div class="t val" style="left:618.00px;top:287.00px">0,<span class=one></span>60<span class=one></span></div>
<div class="t nm" style="right:726.55px;top:321.35px">Туреччина</div>
<div class="t val" style="left:635.80px;top:321.45px">0,<span class=one></span>697</div>
<div class="t nm" style="right:726.55px;top:355.80px">Пакистан</div>
<div class="t val" style="left:635.80px;top:355.90px">0,<span class=one></span>7<span class=one></span><span class=one></span></div>
<div class="t nm" style="right:726.55px;top:390.25px">Італія</div>
<div class="t val" style="left:664.10px;top:390.35px">0,<span class=one></span>863</div>
<div class="t nm" style="right:726.55px;top:424.70px">Франція</div>
<div class="t val" style="left:664.10px;top:424.80px">0,<span class=one></span>878</div>
<div class="t nm" style="right:726.55px;top:459.15px">Бразилія</div>
<div class="t val" style="left:675.10px;top:459.25px">0,<span class=one></span>944</div>
<div class="t nm" style="right:726.55px;top:493.60px">Індонезія</div>
<div class="t val" style="left:727.10px;top:493.70px">0,225<span class=one></span></div>
<div class="t nm" style="right:726.55px;top:528.05px">Іран</div>
<div class="t val" style="left:728.40px;top:528.15px">0,2269</div>
<div class="t nm" style="right:726.55px;top:562.50px">Єгипет</div>
<div class="t val" style="left:729.80px;top:562.60px">0,2283</div>
<div class="t nm" style="right:726.55px;top:596.95px">Австралія</div>
<div class="t val" style="left:769.30px;top:597.05px">0,25<span class=one></span>5</div>
<div class="t nm" style="right:726.55px;top:631.40px">Ізраїль</div>
<div class="t val" style="left:781.00px;top:631.50px">0,2596</div>
<div class="t nm" style="right:726.55px;top:665.85px">Україна</div>
<div class="t val" style="left:782.00px;top:665.95px">0,2598</div>
<div class="t nm" style="right:726.55px;top:700.30px">Німеччина</div>
<div class="t val" style="left:824.00px;top:700.40px">0,2847</div>
<div class="t nm" style="right:726.55px;top:734.75px">Іспанія</div>
<div class="t val" style="left:832.90px;top:734.85px">0,2882</div>
<svg style="position:absolute;left:0;top:0" width="120" height="768"><rect x="72.7" y="219.70" width="2.7" height="15.2" fill="#f8a12a"/><path d="M74,220.60 L69.2,223.70" stroke="#f8a12a" stroke-width="2.5" stroke-linecap="round"/></svg>
<div style="position:absolute;left:56.6px;top:226.40px;width:10px;height:2.7px;background:#f8a12a"></div><div style="position:absolute;left:60.25px;top:222.60px;width:2.7px;height:10.5px;background:#f8a12a"></div>
<svg style="position:absolute;left:0;top:0" width="120" height="768"><rect x="72.7" y="254.15" width="2.7" height="15.2" fill="#141110"/><path d="M74,255.05 L69.2,258.15" stroke="#141110" stroke-width="2.5" stroke-linecap="round"/></svg>
<div style="position:absolute;left:58.2px;top:260.85px;width:8.4px;height:2.6px;background:#141110"></div>
<svg style="position:absolute;left:0;top:0" width="120" height="768"><rect x="72.7" y="288.60" width="2.7" height="15.2" fill="#f8a12a"/><path d="M74,289.50 L69.2,292.60" stroke="#f8a12a" stroke-width="2.5" stroke-linecap="round"/></svg>
<div style="position:absolute;left:56.6px;top:295.30px;width:10px;height:2.7px;background:#f8a12a"></div><div style="position:absolute;left:60.25px;top:291.50px;width:2.7px;height:10.5px;background:#f8a12a"></div>
<div class="t chg" style="right:948.10px;top:320.85px;color:#f8a12a">3</div>
<div style="position:absolute;left:52.3px;top:329.75px;width:10px;height:2.7px;background:#f8a12a"></div><div style="position:absolute;left:55.95px;top:325.95px;width:2.7px;height:10.5px;background:#f8a12a"></div>
<div class="t chg" style="right:948.10px;top:355.30px;color:#141110">2</div>
<div style="position:absolute;left:54.1px;top:364.20px;width:8.4px;height:2.6px;background:#141110"></div>
<div class="t chg" style="right:948.10px;top:424.20px;color:#141110">2</div>
<div style="position:absolute;left:54.1px;top:433.10px;width:8.4px;height:2.6px;background:#141110"></div>
<div class="t chg" style="right:948.10px;top:527.55px;color:#f8a12a">3</div>
<div style="position:absolute;left:52.3px;top:536.45px;width:10px;height:2.7px;background:#f8a12a"></div><div style="position:absolute;left:55.95px;top:532.65px;width:2.7px;height:10.5px;background:#f8a12a"></div>
<svg style="position:absolute;left:0;top:0" width="120" height="768"><rect x="72.7" y="564.20" width="2.7" height="15.2" fill="#141110"/><path d="M74,565.10 L69.2,568.20" stroke="#141110" stroke-width="2.5" stroke-linecap="round"/></svg>
<div style="position:absolute;left:58.2px;top:570.90px;width:8.4px;height:2.6px;background:#141110"></div>
<svg style="position:absolute;left:0;top:0" width="120" height="768"><rect x="72.7" y="633.10" width="2.7" height="15.2" fill="#f8a12a"/><path d="M74,634.00 L69.2,637.10" stroke="#f8a12a" stroke-width="2.5" stroke-linecap="round"/></svg>
<div style="position:absolute;left:56.6px;top:639.80px;width:10px;height:2.7px;background:#f8a12a"></div><div style="position:absolute;left:60.25px;top:636.00px;width:2.7px;height:10.5px;background:#f8a12a"></div>
<div class="t chg" style="right:948.10px;top:665.35px;color:#141110">3</div>
<div style="position:absolute;left:54.1px;top:674.25px;width:8.4px;height:2.6px;background:#141110"></div>
<div class="t chg" style="right:948.10px;top:699.80px;color:#f8a12a">6</div>
<div style="position:absolute;left:52.3px;top:708.70px;width:10px;height:2.7px;background:#f8a12a"></div><div style="position:absolute;left:55.95px;top:704.90px;width:2.7px;height:10.5px;background:#f8a12a"></div>
<svg style="position:absolute;left:0;top:0" width="120" height="768"><rect x="72.7" y="736.45" width="2.7" height="15.2" fill="#f8a12a"/><path d="M74,737.35 L69.2,740.45" stroke="#f8a12a" stroke-width="2.5" stroke-linecap="round"/></svg>
<div style="position:absolute;left:56.6px;top:743.15px;width:10px;height:2.7px;background:#f8a12a"></div><div style="position:absolute;left:60.25px;top:739.35px;width:2.7px;height:10.5px;background:#f8a12a"></div>
</body></html>
